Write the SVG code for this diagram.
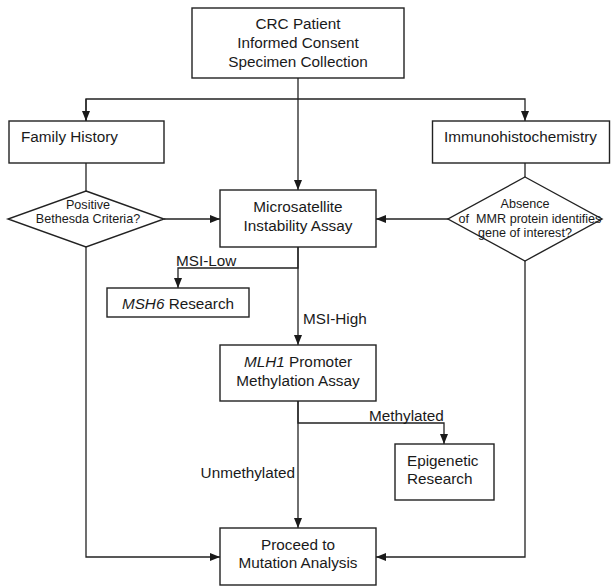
<svg xmlns="http://www.w3.org/2000/svg" width="611" height="586" viewBox="0 0 611 586">
<defs>
<style>
.box{fill:#fff;stroke:#222;stroke-width:1.4}
.ln{fill:none;stroke:#222;stroke-width:1.3}
text{font-family:"Liberation Sans",Arial,sans-serif;fill:#1a1a1a}
.t{font-size:15.3px}
.s{font-size:12.6px}
.c{text-anchor:middle}
</style>
<marker id="ah" viewBox="0 0 10 10" refX="10" refY="5" markerWidth="10" markerHeight="10" markerUnits="userSpaceOnUse" orient="auto">
<path d="M0,1 L10,5 L0,9 Z" fill="#1a1a1a"/>
</marker>
</defs>
<rect width="611" height="586" fill="#fff"/>
<g id="connectors">
<line class="ln" x1="298" y1="78" x2="298" y2="190" marker-end="url(#ah)"/>
<polyline class="ln" points="86,121 86,99 525,99 525,121" marker-end="url(#ah)"/>
<line class="ln" x1="86" y1="99" x2="86" y2="121" marker-end="url(#ah)"/>
<line class="ln" x1="86" y1="163" x2="86" y2="191"/>
<line class="ln" x1="525" y1="163" x2="525" y2="177"/>
<line class="ln" x1="164" y1="219" x2="220" y2="219" marker-end="url(#ah)"/>
<line class="ln" x1="448" y1="219" x2="376" y2="219" marker-end="url(#ah)"/>
<polyline class="ln" points="298,247 298,268 178,268 178,288" marker-end="url(#ah)"/>
<line class="ln" x1="298" y1="247" x2="298" y2="345" marker-end="url(#ah)"/>
<polyline class="ln" points="298,401 298,423 444,423 444,444" marker-end="url(#ah)"/>
<line class="ln" x1="298" y1="401" x2="298" y2="528" marker-end="url(#ah)"/>
<polyline class="ln" points="86,247 86,557 220,557" marker-end="url(#ah)"/>
<polyline class="ln" points="525,261 525,557 376,557" marker-end="url(#ah)"/>
<text class="t" x="176" y="266">MSI-Low</text>
<text class="t" x="303" y="324">MSI-High</text>
<text class="t" x="369" y="421">Methylated</text>
<text class="t" x="295" y="478" text-anchor="end">Unmethylated</text>
</g>
<g id="crc">
<rect class="box" x="192" y="8" width="212" height="70"/>
<text class="t c" x="298" y="29">CRC Patient</text>
<text class="t c" x="298" y="48">Informed Consent</text>
<text class="t c" x="298" y="67">Specimen Collection</text>
</g>
<g id="family">
<rect class="box" x="9" y="121" width="155" height="42"/>
<text class="t" x="21" y="142">Family History</text>
</g>
<g id="ihc">
<rect class="box" x="432.5" y="121" width="177" height="42"/>
<text class="t" x="444" y="142">Immunohistochemistry</text>
</g>
<g id="bethesda">
<polygon class="box" points="86,191 164,219 86,247 8,219"/>
<text class="s c" x="88" y="209">Positive</text>
<text class="s c" x="88" y="223">Bethesda Criteria?</text>
</g>
<g id="mmr">
<polygon class="box" points="525,177 602,219 525,261 448,219"/>
<text class="s c" x="525" y="208">Absence</text>
<text class="s c" x="530" y="223" xml:space="preserve">of  MMR protein identifies</text>
<text class="s c" x="525" y="237">gene of interest?</text>
</g>
<g id="msi">
<rect class="box" x="220" y="190" width="156" height="57"/>
<text class="t c" x="298" y="212">Microsatellite</text>
<text class="t c" x="298" y="231">Instability Assay</text>
</g>
<g id="msh6">
<rect class="box" x="107" y="288" width="142" height="29"/>
<text class="t c" x="178" y="309"><tspan font-style="italic">MSH6</tspan> Research</text>
</g>
<g id="mlh1">
<rect class="box" x="220" y="345" width="156" height="56"/>
<text class="t c" x="298" y="367"><tspan font-style="italic">MLH1</tspan> Promoter</text>
<text class="t c" x="298" y="386">Methylation Assay</text>
</g>
<g id="epigenetic">
<rect class="box" x="395" y="444" width="99" height="56"/>
<text class="t" x="407" y="466">Epigenetic</text>
<text class="t" x="407" y="484">Research</text>
</g>
<g id="proceed">
<rect class="box" x="220" y="528" width="156" height="57"/>
<text class="t c" x="298" y="550">Proceed to</text>
<text class="t c" x="298" y="568">Mutation Analysis</text>
</g>
</svg>
